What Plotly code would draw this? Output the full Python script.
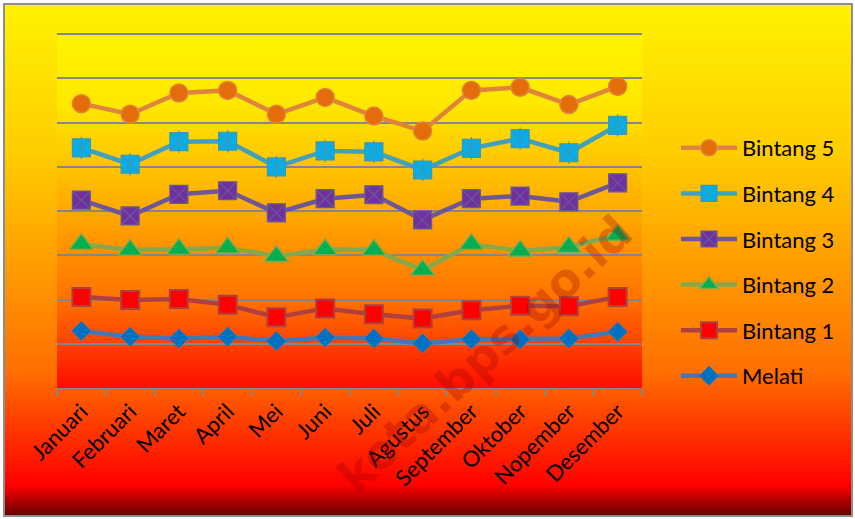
import base64
import plotly.graph_objects as go

months = ["Januari", "Februari", "Maret", "April", "Mei", "Juni", "Juli",
          "Agustus", "September", "Oktober", "Nopember", "Desember"]

bintang5 = [64.3, 61.9, 66.7, 67.3, 61.9, 65.7, 61.5, 58.1, 67.3, 68.0, 64.1, 68.2]
bintang4 = [54.3, 50.6, 55.7, 55.8, 50.0, 53.6, 53.4, 49.3, 54.2, 56.4, 53.2, 59.4]
bintang3 = [42.5, 38.9, 43.8, 44.6, 39.6, 42.8, 43.7, 38.0, 42.8, 43.4, 42.1, 46.4]
bintang2 = [32.5, 31.2, 31.4, 31.7, 29.8, 31.3, 31.2, 26.7, 32.5, 31.0, 31.9, 34.6]
bintang1 = [20.6, 19.9, 20.1, 18.8, 16.0, 18.0, 16.7, 15.7, 17.6, 18.6, 18.5, 20.6]
melati = [12.9, 11.6, 11.2, 11.6, 10.6, 11.4, 11.2, 10.1, 11.0, 11.0, 11.2, 12.7]

series_names = ["Bintang 5", "Bintang 4", "Bintang 3", "Bintang 2", "Bintang 1", "Melati"]
series_values = [bintang5, bintang4, bintang3, bintang2, bintang1, melati]

W, H = 855, 519
L, R, T, B = 57, 642, 32, 388
PW, PH = R - L, B - T
Y_TOP = 80.5


def svg_uri(svg):
    return "data:image/svg+xml;base64," + base64.b64encode(svg.encode()).decode()


outer_svg = f'''<svg xmlns="http://www.w3.org/2000/svg" width="{W}" height="{H}" viewBox="0 0 {W} {H}" preserveAspectRatio="none">
<defs><linearGradient id="g" x1="0" y1="0" x2="0" y2="1">
<stop offset="0" stop-color="#FFF200"/>
<stop offset="0.29" stop-color="#FFCD00"/>
<stop offset="0.45" stop-color="#FFAA00"/>
<stop offset="0.72" stop-color="#FF6E00"/>
<stop offset="0.90" stop-color="#FF1400"/>
<stop offset="0.94" stop-color="#FF0000"/>
<stop offset="1" stop-color="#620000"/>
</linearGradient></defs>
<rect x="0" y="0" width="{W}" height="{H}" fill="#FFFFFF"/>
<rect x="4" y="4" width="{W-7}" height="{H-7}" fill="url(#g)" stroke="#8C8C8C" stroke-width="2"/>
</svg>'''

plot_svg = f'''<svg xmlns="http://www.w3.org/2000/svg" width="{PW}" height="{PH}" viewBox="0 0 {PW} {PH}" preserveAspectRatio="none">
<defs><linearGradient id="p" x1="0" y1="0" x2="0" y2="1">
<stop offset="0" stop-color="#FFF400"/>
<stop offset="0.2" stop-color="#FFE800"/>
<stop offset="0.5" stop-color="#FFAA00"/>
<stop offset="0.75" stop-color="#FF7200"/>
<stop offset="0.88" stop-color="#FF4000"/>
<stop offset="1" stop-color="#FF0C00"/>
</linearGradient></defs>
<rect x="0" y="0" width="{PW}" height="{PH}" fill="url(#p)"/>
</svg>'''

styles = {
    "Bintang 5": dict(line="#E0843C", fill="#E46C0A", edge="#E0843C", symbol="circle", size=18, lw=1.5),
    "Bintang 4": dict(line="#43A0BB", fill="#00B0F0", edge="#3F97B0", symbol="square-x", size=18, lw=1.2),
    "Bintang 3": dict(line="#6E5796", fill="#7030A0", edge="#6A5A92", symbol="square-x", size=18, lw=1.2),
    "Bintang 2": dict(line="#86A84C", fill="#00B050", edge="#86A84C", symbol="triangle-up", size=21, lw=1.5),
    "Bintang 1": dict(line="#B0403E", fill="#FF0000", edge="#B0403E", symbol="square", size=18, lw=2),
    "Melati": dict(line="#4676B4", fill="#0070C0", edge="#4676B4", symbol="diamond", size=15, lw=1),
}

FONT = "Lato, 'Liberation Sans Narrow', 'DejaVu Sans Condensed', sans-serif"

fig = go.Figure()
for name, vals in zip(series_names, series_values):
    s = styles[name]
    fig.add_trace(go.Scatter(
        x=months, y=vals, name=name, mode="lines+markers",
        legendgroup=name,
        line=dict(color=s["line"], width=4.5),
        marker=dict(symbol=s["symbol"], size=s["size"], color=s["fill"],
                    line=dict(color=s["edge"], width=s["lw"])),
    ))
    if name == "Bintang 4":
        fig.add_trace(go.Scatter(
            x=months, y=vals, mode="markers", showlegend=False, hoverinfo="skip",
            legendgroup=name,
            marker=dict(symbol="line-ns", size=16, line=dict(color=s["edge"], width=1.2)),
        ))

fig.update_layout(
    width=W, height=H,
    margin=dict(l=L, r=W - R, t=T, b=H - B, pad=0),
    paper_bgcolor="rgba(0,0,0,0)",
    plot_bgcolor="rgba(0,0,0,0)",
    font=dict(family=FONT, size=22, color="#000000"),
    showlegend=True,
    legend=dict(
        x=(676 - L) / PW, y=(B - 127) / PH, xanchor="left", yanchor="top",
        bgcolor="rgba(0,0,0,0)", borderwidth=0,
        font=dict(family=FONT, size=22, color="#000000"),
        tracegroupgap=14, itemwidth=56, traceorder="grouped",
    ),
    images=[
        dict(source=svg_uri(outer_svg), xref="paper", yref="paper",
             x=-L / PW, y=B / PH, sizex=W / PW, sizey=H / PH,
             xanchor="left", yanchor="top", sizing="stretch", layer="below"),
        dict(source=svg_uri(plot_svg), xref="paper", yref="paper",
             x=0, y=1, sizex=1, sizey=1,
             xanchor="left", yanchor="top", sizing="stretch", layer="below"),
    ],
    annotations=[
        dict(text="kota.bps.go.id", xref="paper", yref="paper",
             x=(484 - L) / PW, y=(B - 354) / PH, showarrow=False,
             textangle=-43, font=dict(family="'DejaVu Sans', sans-serif", size=47,
                                      color="rgba(150,0,0,0.28)", weight="bold"),
             xanchor="center", yanchor="middle"),
    ],
)

fig.update_xaxes(
    type="category", range=[-0.5, 11.5],
    showgrid=False, zeroline=False,
    showline=True, linecolor="#868686", linewidth=2,
    ticks="outside", tickson="boundaries", ticklen=6, tickcolor="#868686", tickwidth=2,
    tickangle=-45, tickfont=dict(family=FONT, size=22, color="#000000"),
)
fig.update_yaxes(
    range=[0, Y_TOP], dtick=10, showticklabels=False,
    showgrid=True, gridcolor="#868686", gridwidth=2,
    zeroline=False, showline=False, ticks="",
)

fig.write_html("out.html", config={"displayModeBar": False},
               post_script="document.body.style.margin='0';document.body.style.overflow='hidden';")
